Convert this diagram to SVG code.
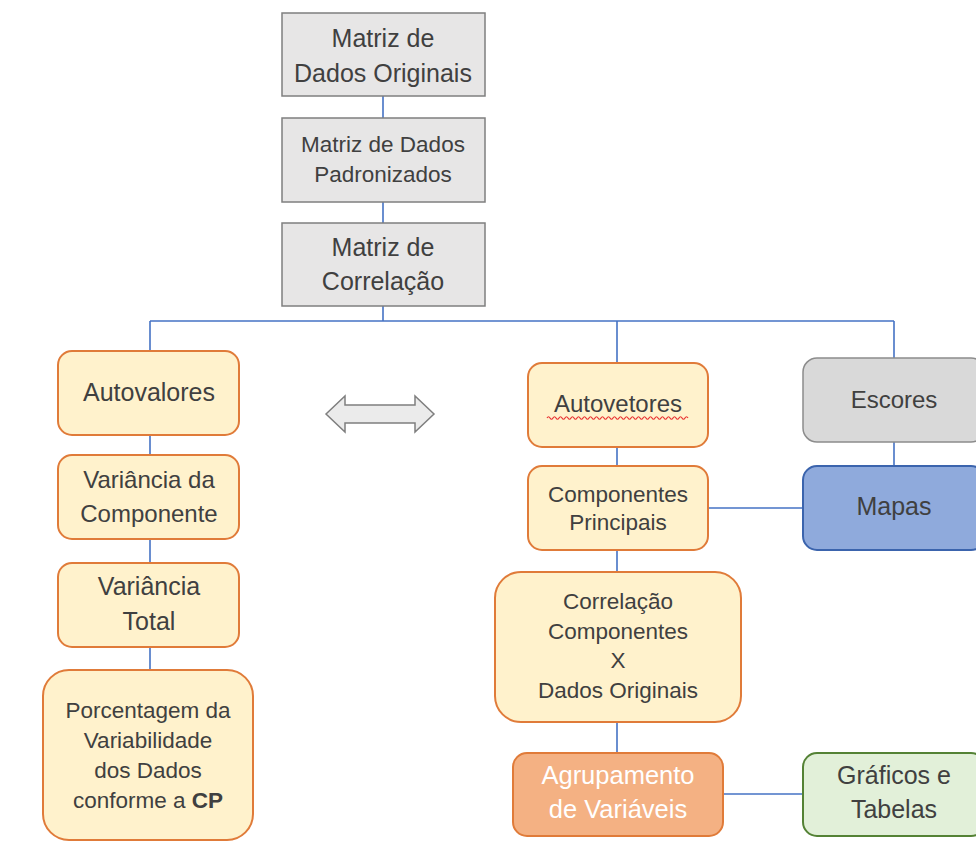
<svg xmlns="http://www.w3.org/2000/svg" width="976" height="848" viewBox="0 0 976 848">
<style>
text{font-family:"Liberation Sans",Arial,sans-serif;fill:#404040;text-anchor:middle}
.gray rect{fill:#E7E6E6;stroke:#7F7F7F;stroke-width:1.5}
.org rect{fill:#FFF2CC;stroke:#E07B39;stroke-width:2}
.conn line{stroke:#4472C4;stroke-width:1.6}
</style>
<rect width="976" height="848" fill="#FFFFFF"/>
<g id="connectors" class="conn">
<line x1="383" y1="96" x2="383" y2="118"/>
<line x1="383" y1="202" x2="383" y2="223"/>
<line x1="383" y1="306" x2="383" y2="321"/>
<line x1="150" y1="321" x2="894" y2="321"/>
<line x1="150" y1="321" x2="150" y2="351"/>
<line x1="617" y1="321" x2="617" y2="363"/>
<line x1="894" y1="321" x2="894" y2="358"/>
<line x1="150" y1="435" x2="150" y2="455"/>
<line x1="150" y1="539" x2="150" y2="563"/>
<line x1="150" y1="647" x2="150" y2="670"/>
<line x1="617" y1="447" x2="617" y2="466"/>
<line x1="617" y1="550" x2="617" y2="572"/>
<line x1="617" y1="722" x2="617" y2="753"/>
<line x1="708" y1="508" x2="803" y2="508"/>
<line x1="894" y1="442" x2="894" y2="466"/>
<line x1="723" y1="794" x2="803" y2="794"/>
</g>
<g id="n1" class="gray"><rect x="282" y="13" width="203" height="83"/><text x="383" y="47" font-size="25">Matriz de</text><text x="383" y="82" font-size="25">Dados Originais</text></g>
<g id="n2" class="gray"><rect x="282" y="118" width="203" height="84"/><text x="383" y="152" font-size="22.5">Matriz de Dados</text><text x="383" y="182" font-size="22.5">Padronizados</text></g>
<g id="n3" class="gray"><rect x="282" y="223" width="203" height="83"/><text x="383" y="256" font-size="25">Matriz de</text><text x="383" y="290" font-size="25">Correlação</text></g>
<g id="autovalores" class="org"><rect x="58" y="351" width="181" height="84" rx="14"/><text x="149" y="401" font-size="25">Autovalores</text></g>
<g id="variancia-comp" class="org"><rect x="58" y="455" width="181" height="84" rx="14"/><text x="149" y="488" font-size="24">Variância da</text><text x="149" y="522" font-size="24">Componente</text></g>
<g id="variancia-total" class="org"><rect x="58" y="563" width="181" height="84" rx="14"/><text x="149" y="595" font-size="25">Variância</text><text x="149" y="630" font-size="25">Total</text></g>
<g id="porcentagem" class="org"><rect x="43" y="670" width="210" height="170" rx="26"/><text x="148" y="718" font-size="22.5">Porcentagem da</text><text x="148" y="748" font-size="22.5">Variabilidade</text><text x="148" y="778" font-size="22.5">dos Dados</text><text x="148" y="808" font-size="22.5">conforme a <tspan font-weight="bold">CP</tspan></text></g>
<g id="double-arrow"><polygon points="326,414 345,396 345,405 415,405 415,396 434,414 415,432 415,423 345,423 345,432" fill="#EBEBEB" stroke="#7F7F7F" stroke-width="1.5"/></g>
<g id="autovetores" class="org"><rect x="528" y="363" width="180" height="84" rx="14"/><text x="618" y="412" font-size="24">Autovetores</text><path d="M547,418 q1.5,-2.5 3,0 t3,0 t3,0 t3,0 t3,0 t3,0 t3,0 t3,0 t3,0 t3,0 t3,0 t3,0 t3,0 t3,0 t3,0 t3,0 t3,0 t3,0 t3,0 t3,0 t3,0 t3,0 t3,0 t3,0 t3,0 t3,0 t3,0 t3,0 t3,0 t3,0 t3,0 t3,0 t3,0 t3,0 t3,0 t3,0 t3,0 t3,0 t3,0 t3,0 t3,0 t3,0 t3,0 t3,0 t3,0 t3,0 t3,0" fill="none" stroke="#E83030" stroke-width="1.2"/></g>
<g id="escores" class="gray"><rect x="803" y="358" width="182" height="84" rx="14" style="fill:#D9D9D9;stroke:#8C8C8C"/><text x="894" y="408" font-size="24">Escores</text></g>
<g id="componentes" class="org"><rect x="528" y="466" width="180" height="84" rx="14"/><text x="618" y="502" font-size="22.5">Componentes</text><text x="618" y="530" font-size="22.5">Principais</text></g>
<g id="mapas"><rect x="803" y="466" width="182" height="84" rx="14" fill="#8FAADC" stroke="#3B64AD" stroke-width="2"/><text x="894" y="515" font-size="25">Mapas</text></g>
<g id="correlacao" class="org"><rect x="495" y="572" width="246" height="150" rx="26"/><text x="618" y="609" font-size="22.5">Correlação</text><text x="618" y="639" font-size="22.5">Componentes</text><text x="618" y="668" font-size="22.5">X</text><text x="618" y="698" font-size="22.5">Dados Originais</text></g>
<g id="agrupamento"><rect x="513" y="753" width="210" height="83" rx="14" fill="#F4B183" stroke="#E07B39" stroke-width="2"/><text x="618" y="784" font-size="25.5" style="fill:#FFFFFF">Agrupamento</text><text x="618" y="818" font-size="25.5" style="fill:#FFFFFF">de Variáveis</text></g>
<g id="graficos"><rect x="803" y="753" width="182" height="83" rx="14" fill="#E2F0D9" stroke="#548235" stroke-width="2"/><text x="894" y="784" font-size="25">Gráficos e</text><text x="894" y="818" font-size="25">Tabelas</text></g>
</svg>
